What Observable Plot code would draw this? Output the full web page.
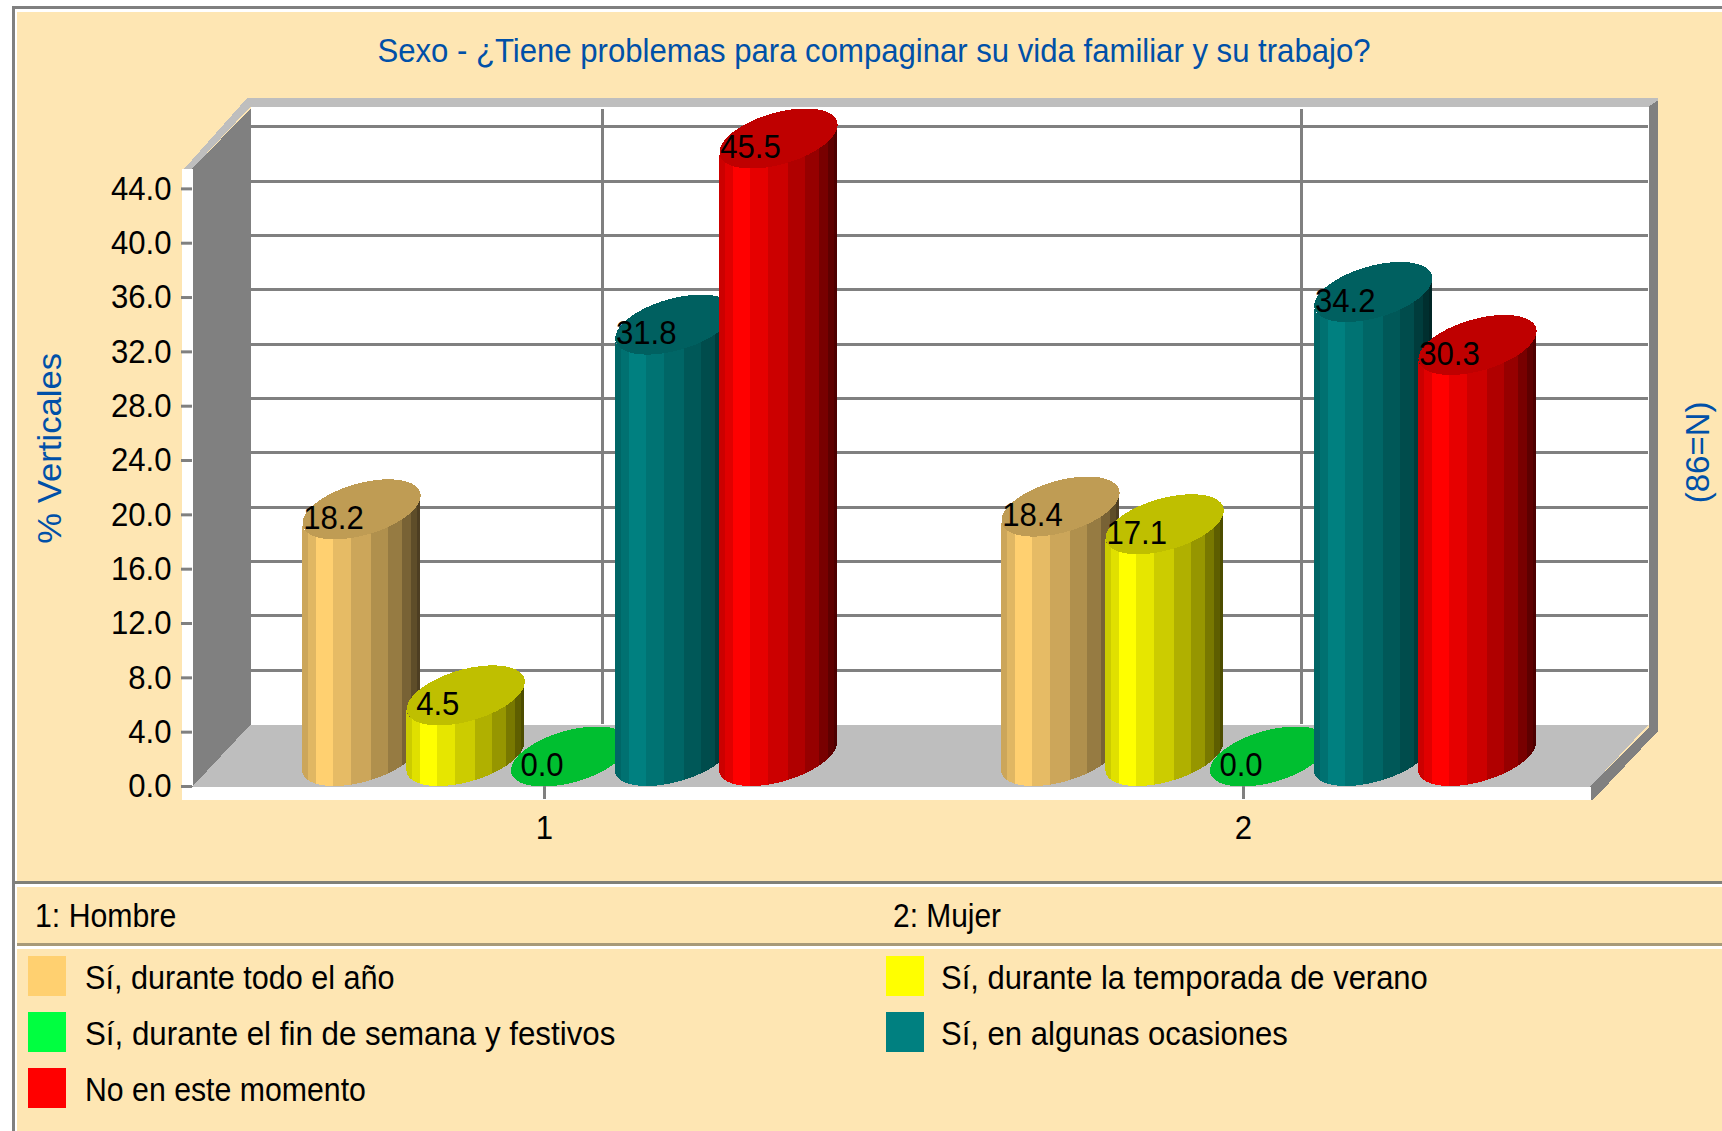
<!DOCTYPE html>
<html><head><meta charset="utf-8">
<script src="https://cdn.jsdelivr.net/npm/d3@7"></script>
<script src="https://cdn.jsdelivr.net/npm/@observablehq/plot@0.6"></script>
<style>
html,body{margin:0;padding:0;background:#fff;overflow:hidden}
#page{position:relative;width:1722px;height:1131px;overflow:hidden;font-family:"Liberation Sans",sans-serif;}
.abs{position:absolute}
.t{position:absolute;white-space:nowrap;line-height:1;font-size:34px;color:#000;transform-origin:0 50%}
svg{position:absolute;left:0;top:90px;background:transparent!important;overflow:visible}
</style></head><body><div id="page"></div>
<script>
const categories = ["1", "2"];
const categoryNames = ["1: Hombre", "2: Mujer"];
const seriesNames = ["Sí, durante todo el año", "Sí, durante la temporada de verano", "Sí, durante el fin de semana y festivos", "Sí, en algunas ocasiones", "No en este momento"];
const seriesColors = ["#FFD070", "#FFFF00", "#00FF40", "#008080", "#FF0000"];
const hombre = [18.2, 4.5, 0.0, 31.8, 45.5];
const mujer = [18.4, 17.1, 0.0, 34.2, 30.3];
const yTicks = [0, 4, 8, 12, 16, 20, 24, 28, 32, 36, 40, 44];
const titleText = "Sexo - ¿Tiene problemas para compaginar su vida familiar y su trabajo?";
const yLabel = "% Verticales";
const nLabel = "(86=N)";

// --- layout constants ---
const W = 1722, SVGH = 790, SVGTOP = 90;
const frontL = 192, frontR = 1590, yZero = 786, yTop = 168;
const yMax = 45.5;
const pxX = (frontR - frontL) / 2, pxY = (yZero - yTop) / yMax;   // pixels per unit
const ux = p => p / pxX, uy = p => p / pxY;
const depthX = ux(58), depthY = uy(62);
const slot = ux(104.25), firstSlot = ux(110);
const halfA = 52.5, halfB = 27, halfD = uy(30);            // footprint ellipse
const halfW = Math.hypot(halfA, halfB), phi = Math.atan2(halfB, halfA);
const lowerArc = u => Math.sin(phi - Math.acos(Math.max(-1, Math.min(1, u / halfW))));
const stripEdges = [0, 18, 42, 93, 147, 207, 258, 300, 327, 345, 354].map(d => d / 354);
const stripShade = [.80, .88, 1, .90, .80, .69, .59, .47, .37, .30];
const topShade = .75;
const shade = (c, k) => { const r = d3.rgb(c); return d3.rgb(r.r * k, r.g * k, r.b * k).formatHex(); };
const GRAY = "#808080", LIGHT = "#BEBEBE", BLUE = "#0050A8";
const FONT = 34;

// --- cylinders ---
const rows = categories.flatMap((c, g) => [hombre, mujer][g].map((v, s) => ({g, s, v, left: g + firstSlot + s * slot})));

function cylinderMarks(d) {
  const cx = d.left + ux(halfW), base = seriesColors[d.s];
  const marks = [];
  if (d.v > 0) stripShade.forEach((k, i) => {
    const a = stripEdges[i], b = stripEdges[i + 1], n = 10, pts = [];
    for (let j = 0; j <= n; j++) {
      const f = a + (b - a) * j / n, u = (f * 2 - 1) * halfW;
      const off = halfD * (1 + lowerArc(u));
      pts.push({x: cx + ux(u), y1: off, y2: d.v + off});
    }
    marks.push(Plot.areaY(pts, {x: "x", y1: "y1", y2: "y2", fill: shade(base, k), shapeRendering: "crispEdges"}));
  });
  const top = d3.range(0, 121).map(i => {
    const t = i / 120 * 2 * Math.PI;
    return {x: cx + ux(halfA * Math.cos(t) + halfB * Math.sin(t)), y: d.v + halfD * (1 + Math.sin(t))};
  });
  marks.push(Plot.line(top, {x: "x", y: "y", fill: shade(base, topShade), stroke: "none", shapeRendering: "crispEdges"}));
  return marks;
}

// --- chart frame as data-space polygons ---
const topV = yMax;
const poly = (pts, fill) => Plot.line(pts.map(([x, y]) => ({x, y})), {x: "x", y: "y", fill, stroke: "none", shapeRendering: "crispEdges"});
const backR = 2 + ux(58);
const frameMarks = [
  poly([[0, -uy(13)], [-ux(11), -uy(13)], [-ux(11), topV], [0, topV], [0, 0], [2, 0], [2, -uy(13)]], "#fff"),
  poly([[depthX, depthY], [backR, depthY], [backR, topV + depthY], [depthX, topV + depthY]], "#fff"),
  poly([[0, 0], [depthX, depthY], [backR, depthY], [2, 0]], LIGHT),
  poly([[0, 0], [0, topV], [depthX, topV + uy(60)], [depthX, depthY]], GRAY),
  poly([[-ux(8), topV], [ux(55), topV + uy(71)], [backR + ux(9), topV + uy(71)], [backR + ux(9), topV + uy(68)], [backR, topV + uy(62)], [depthX, topV + uy(62)], [0, topV]], LIGHT),
  poly([[backR, uy(59)], [backR + ux(9), uy(55)], [backR + ux(9), topV + uy(68)], [backR, topV + uy(62)]], GRAY),
  poly([[2, 0], [backR, uy(59)], [backR + ux(9), uy(55)], [2 + ux(3), -uy(13)], [2, -uy(13)]], GRAY),
  Plot.ruleY(yTicks.slice(1), {y: d => d + depthY, x1: depthX, x2: backR, stroke: GRAY, strokeWidth: 3, shapeRendering: "crispEdges"}),
  Plot.ruleX(categories, {x: (d, i) => i + 0.5036 + depthX, y1: depthY, y2: depthY + uy(615), stroke: GRAY, strokeWidth: 3, shapeRendering: "crispEdges"})
];

const chart = Plot.plot({
  width: W, height: SVGH,
  marginLeft: frontL, marginRight: W - frontR,
  marginTop: yTop - SVGTOP, marginBottom: SVGTOP + SVGH - yZero,
  style: {fontFamily: '"Liberation Sans",sans-serif', background: "transparent"},
  x: {type: "linear", domain: [0, 2]},
  y: {type: "linear", domain: [0, yMax]},
  marks: [
    ...frameMarks,
    ...rows.flatMap(cylinderMarks),
    Plot.axisY({ticks: yTicks, tickFormat: d => d.toFixed(1), tickSize: 11, tickPadding: 10, stroke: GRAY, strokeWidth: 3, fill: "#000", fontSize: FONT, label: null}),
    Plot.axisX({ticks: categories.map((c, i) => i + 0.5036), tickFormat: (d, i) => categories[i], tickSize: 13, tickPadding: 15, stroke: GRAY, strokeWidth: 3, fill: "#000", fontSize: FONT, label: null}),
    Plot.text(rows, {x: d => d.left + ux(31), y: d => d.v, dy: -21, text: d => d.v.toFixed(1), fill: "#000", fontSize: FONT, fontVariant: "normal"}),
    Plot.text([yLabel], {frameAnchor: "left", textAnchor: "middle", dx: 50 - frontL, text: d => d, rotate: -90, fill: BLUE, fontSize: FONT, y: () => 24.9}),
    Plot.text([nLabel], {frameAnchor: "right", textAnchor: "middle", dx: 1698 - frontR, text: d => d, rotate: -90, fill: BLUE, fontSize: FONT, y: () => 24.6})
  ]
});

// --- page furniture ---
const page = document.getElementById("page");
const box = (l, t, w, h, bg) => { const e = document.createElement("div"); e.className = "abs"; e.style.cssText = `left:${l}px;top:${t}px;width:${w}px;height:${h}px;background:${bg}`; page.appendChild(e); return e; };
const CREAM = "#FEE6B3";
box(12, 6, 1710, 3, GRAY);
box(12, 6, 3, 1125, GRAY);
box(17, 12, 1705, 1119, CREAM);
page.appendChild(chart);
// the reference face is narrower than any installed one: condense all chart text to fit
chart.querySelectorAll("text").forEach(t => {
  const s = t.textContent === nLabel ? 0.97 : t.textContent === yLabel ? 1.02 : 0.915;
  t.setAttribute("textLength", t.getComputedTextLength() * s);
  t.setAttribute("lengthAdjust", "spacingAndGlyphs");
});
box(15, 881, 1707, 3, "#808078");
box(15, 884, 1707, 3, "#fff");
box(17, 943, 1705, 3, "#A89A78");
box(17, 946, 1705, 3, "#fff");
const txt = (s, x, y, color, sx, center) => {
  const e = document.createElement("div"); e.className = "t"; e.textContent = s;
  e.style.left = x + "px"; e.style.top = y + "px"; e.style.color = color;
  e.style.transform = (center ? "translate(-50%,-50%) " : "translateY(-50%) ") + `scaleX(${sx})`;
  if (center) e.style.transformOrigin = "50% 50%";
  page.appendChild(e); return e;
};
txt(titleText, 874, 50, BLUE, 0.915, true);
txt(categoryNames[0], 35, 915, "#000", 0.89);
txt(categoryNames[1], 893, 915, "#000", 0.88);
const legendPos = [[28, 956], [886, 956], [28, 1012], [886, 1012], [28, 1068]];
const legendFit = [0.90, 0.91, 0.92, 0.913, 0.89];
seriesNames.forEach((s, i) => {
  const [x, y] = legendPos[i];
  box(x, y, 38, 40, seriesColors[i]);
  txt(s, x + (i % 2 && x > 100 ? 55 : 56.5), y + 21, "#000", legendFit[i]);
});
</script></body></html>
